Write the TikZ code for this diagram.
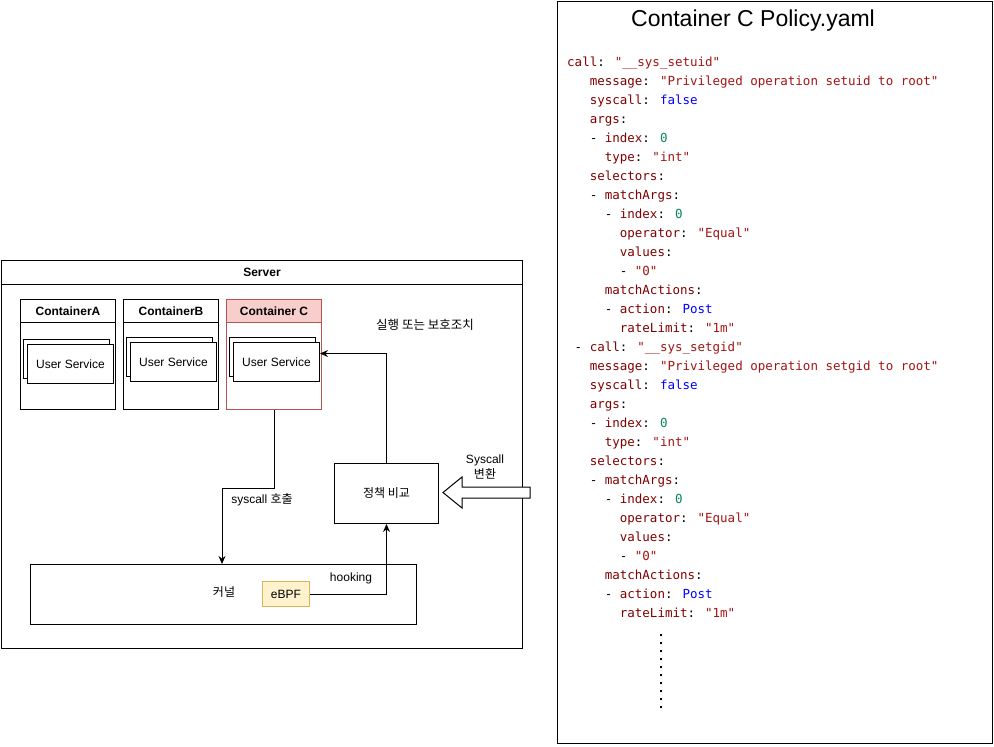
\documentclass[tikz,border=0pt]{standalone}
\usepackage{fontspec}
\setmainfont{Liberation Sans}
\newfontfamily\kr{Noto Sans CJK KR}
\newfontfamily\ymono{DejaVu Sans Mono}
\usetikzlibrary{arrows.meta}
\definecolor{ykey}{HTML}{800000}
\definecolor{ystr}{HTML}{A31515}
\definecolor{yblue}{HTML}{0000FF}
\definecolor{ynum}{HTML}{098658}
\definecolor{credfill}{HTML}{F8CECC}
\definecolor{credline}{HTML}{B85450}
\definecolor{ebfill}{HTML}{FFF2CC}
\definecolor{ebline}{HTML}{D6B656}
\newlength\cw
\setlength\cw{7.525pt}
\newcommand\yk[1]{\textcolor{ykey}{#1}}
\newcommand\ys[1]{\textcolor{ystr}{#1}}
\newcommand\yb[1]{\textcolor{yblue}{#1}}
\newcommand\yn[1]{\textcolor{ynum}{#1}}
\newcommand\ind[1]{\hbox to #1\cw{}}
\tikzset{
  box/.style={draw=black, line width=1pt, fill=white, anchor=north west, inner sep=0pt},
  lbl/.style={font=\fontsize{12}{14}\selectfont, inner sep=0pt},
  arr/.style={draw=black, line width=1pt, -{Stealth[length=8pt,width=7pt]}},
  yaml/.style={anchor=north west, inner sep=0pt, align=left, font=\ymono\fontsize{12.5}{19}\selectfont},
}
\begin{document}
\begin{tikzpicture}[x=1pt,y=-1pt]
\useasboundingbox (0,0) rectangle (994,747);
% Server
\node[box, minimum width=521pt, minimum height=24pt, font=\bfseries\fontsize{12}{14}\selectfont] (servertitle) at (1,260) {Server};
\node[box, minimum width=521pt, minimum height=364pt] (server) at (1,284) {};
% Containers
\node[box, minimum width=95pt, minimum height=23pt, font=\bfseries\fontsize{12}{14}\selectfont] (ahead) at (20,299) {ContainerA};
\node[box, minimum width=95pt, minimum height=87pt] (abody) at (20,322) {};
\node[box, minimum width=95pt, minimum height=23pt, font=\bfseries\fontsize{12}{14}\selectfont] (bhead) at (123,299) {ContainerB};
\node[box, minimum width=95pt, minimum height=87pt] (bbody) at (123,322) {};
\node[box, draw=credline, fill=credfill, minimum width=95pt, minimum height=23pt, font=\bfseries\fontsize{12}{14}\selectfont] (chead) at (226,299) {Container C};
\node[box, draw=credline, minimum width=95pt, minimum height=87pt] (cbody) at (226,322) {};
% User services
\node[box, minimum width=86pt, minimum height=39pt] (aback) at (23,339) {};
\node[box, minimum width=86pt, minimum height=39pt, font=\fontsize{12}{14}\selectfont] (afront) at (27,344) {User Service};
\node[box, minimum width=86pt, minimum height=39pt] (bback) at (126,337) {};
\node[box, minimum width=86pt, minimum height=39pt, font=\fontsize{12}{14}\selectfont] (bfront) at (130,342) {User Service};
\node[box, minimum width=86pt, minimum height=39pt] (cback) at (229,337) {};
\node[box, minimum width=86pt, minimum height=39pt, font=\fontsize{12}{14}\selectfont] (cfront) at (233,342) {User Service};
% Compare, kernel, eBPF
\node[box, minimum width=104pt, minimum height=60pt, font=\kr\fontsize{12}{14}\selectfont] (compare) at (334,463) {정책 비교};
\node[box, minimum width=386pt, minimum height=60pt] (kernel) at (30,564) {};
\node[lbl, font=\kr\fontsize{12}{14}\selectfont] (knl) at (224,592) {커널};
\node[box, draw=ebline, fill=ebfill, minimum width=47pt, minimum height=25pt, font=\fontsize{12}{14}\selectfont] (ebpf) at (262,581) {eBPF};
% Connectors
\coordinate (k1) at (222,564);
\draw[arr] (cbody.south) -- ++(0,78) -| (k1);
\draw[arr] (ebpf.east) -| (compare.south);
\draw[arr] (compare.north) |- ([yshift=8.5pt]cfront.east);
% Labels
\node[lbl] (l1) at (262,500) {syscall {\kr 호출}};
\node[lbl] (l2) at (351,578) {hooking};
\node[lbl, font=\kr\fontsize{12.5}{14}\selectfont] (l3) at (425,325) {실행 또는 보호조치};
\node[lbl, align=center, font=\fontsize{12}{15}\selectfont] (l4) at (485,467) {Syscall\\{\kr 변환}};
% Hollow arrow
\draw[line width=1pt, fill=white] (530,487) -- (462,487) -- (462,477) -- (443,492.5) -- (462,508) -- (462,498) -- (530,498) -- cycle;
% Policy panel
\node[box, minimum width=435pt, minimum height=742pt] (policy) at (557,1) {};
\node[inner sep=0pt, font=\fontsize{23}{26}\selectfont] (ptitle) at (753,21) {Container C Policy.yaml};
\node[yaml] (yaml) at (567,56.5) {%
\yk{call}: \ys{"\_\_sys\_setuid"}\\
\ind3\yk{message}: \ys{"Privileged operation setuid to root"}\\
\ind3\yk{syscall}: \yb{false}\\
\ind3\yk{args}:\\
\ind3- \yk{index}: \yn{0}\\
\ind5\yk{type}: \ys{"int"}\\
\ind3\yk{selectors}:\\
\ind3- \yk{matchArgs}:\\
\ind5- \yk{index}: \yn{0}\\
\ind7\yk{operator}: \ys{"Equal"}\\
\ind7\yk{values}:\\
\ind7- \ys{"0"}\\
\ind5\yk{matchActions}:\\
\ind5- \yk{action}: \yb{Post}\\
\ind7\yk{rateLimit}: \ys{"1m"}\\
\ind1- \yk{call}: \ys{"\_\_sys\_setgid"}\\
\ind3\yk{message}: \ys{"Privileged operation setgid to root"}\\
\ind3\yk{syscall}: \yb{false}\\
\ind3\yk{args}:\\
\ind3- \yk{index}: \yn{0}\\
\ind5\yk{type}: \ys{"int"}\\
\ind3\yk{selectors}:\\
\ind3- \yk{matchArgs}:\\
\ind5- \yk{index}: \yn{0}\\
\ind7\yk{operator}: \ys{"Equal"}\\
\ind7\yk{values}:\\
\ind7- \ys{"0"}\\
\ind5\yk{matchActions}:\\
\ind5- \yk{action}: \yb{Post}\\
\ind7\yk{rateLimit}: \ys{"1m"}};
% Vertical dots
\draw[line width=2pt, dash pattern=on 2pt off 6pt] (661,634) -- (661,710);
\end{tikzpicture}
\end{document}
